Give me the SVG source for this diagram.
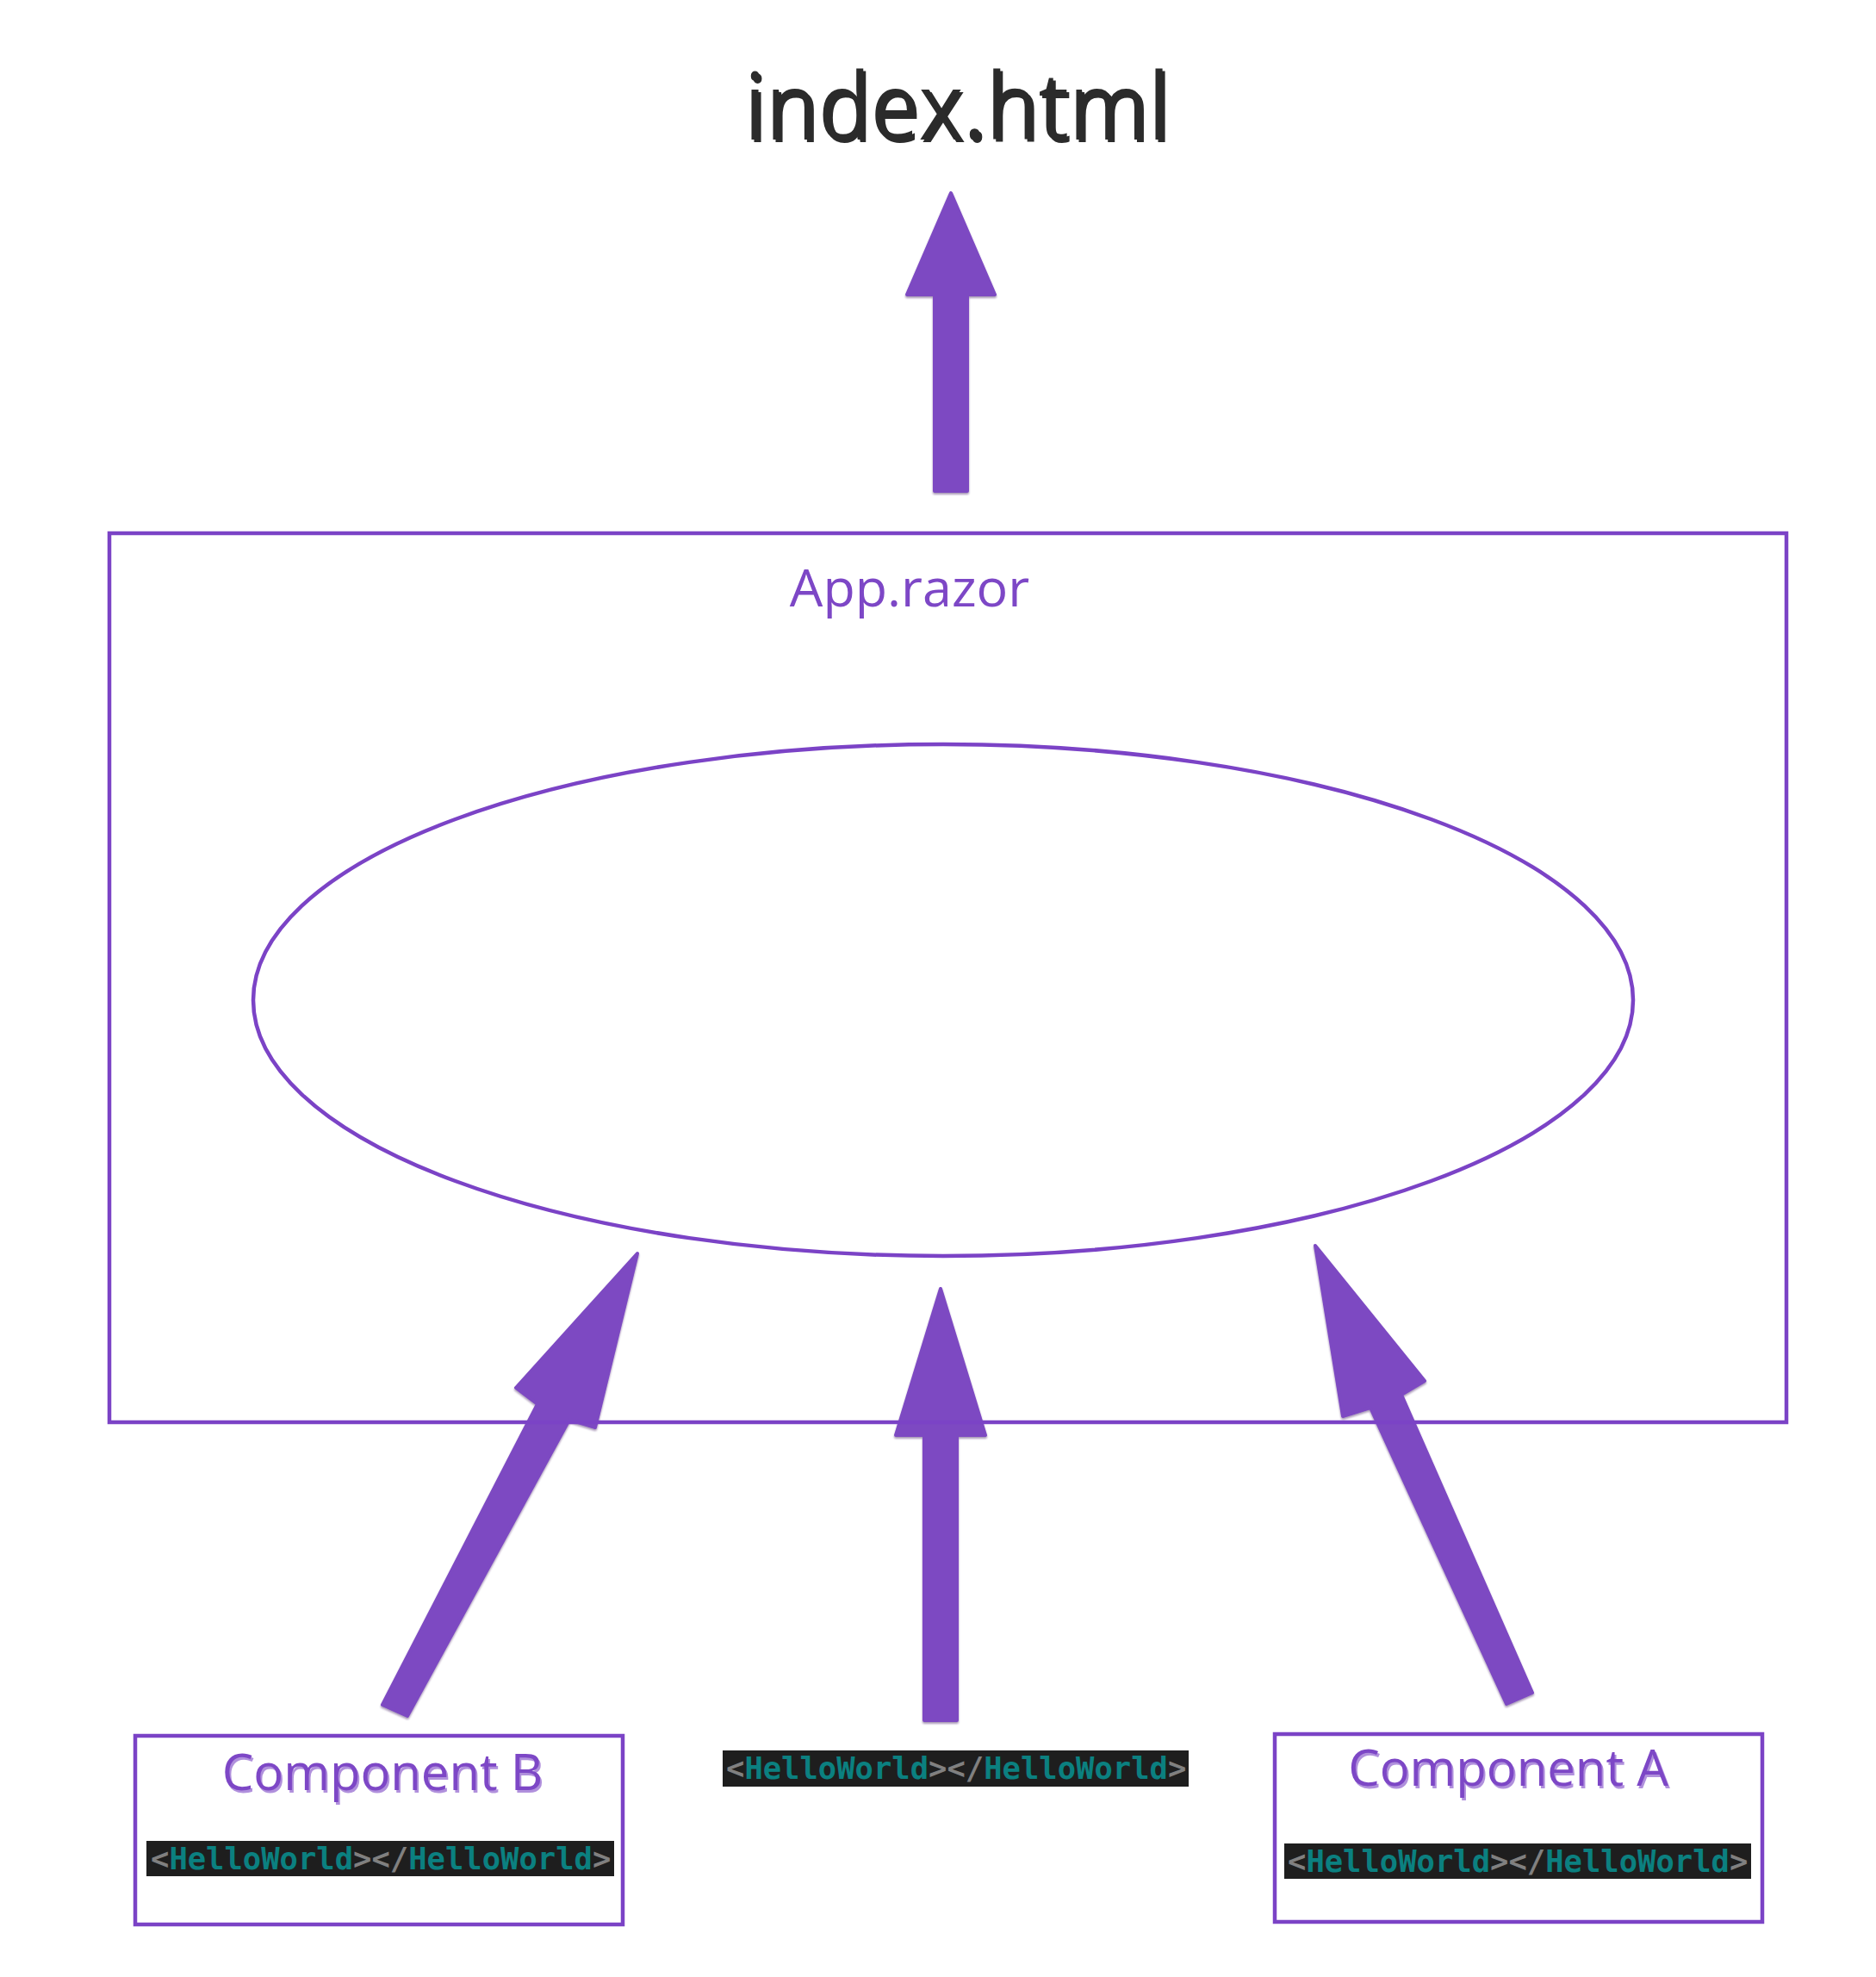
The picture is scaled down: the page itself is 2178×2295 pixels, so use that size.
<svg xmlns="http://www.w3.org/2000/svg" width="2178" height="2295" viewBox="0 0 2178 2295">
<defs>
<style>
.arrow{fill:#7d49c2;stroke:#7d49c2;stroke-width:4;stroke-linejoin:round;filter:url(#sh)}
.frame{fill:none;stroke:#7b43c6;stroke-width:4.5}
.title{font-family:"Open Sans","Noto Sans",sans-serif;fill:#2b2b2b}
.ptext{font-family:"Open Sans","Noto Sans",sans-serif;fill:#7d47c6}
.code{font-family:"DejaVu Sans Mono","Liberation Mono",monospace;font-size:35.5px;font-weight:bold}
.codebg{fill:#1e1e1e}
.punc{fill:#808080}
.tag{fill:#0b8080}
</style>
<filter id="sh" x="-10%" y="-10%" width="120%" height="120%">
<feDropShadow dx="0" dy="2" stdDeviation="1.2" flood-color="#3a1f5c" flood-opacity="0.45"/>
</filter>
</defs>
<rect width="2178" height="2295" fill="#ffffff"/>

<g id="index-html">
<text class="title" x="867" y="165" font-size="108" textLength="494" lengthAdjust="spacingAndGlyphs" fill="#5a5a5a">index.html</text>
<text class="title" x="864" y="162" font-size="108" textLength="494" lengthAdjust="spacingAndGlyphs">index.html</text>
</g>

<g id="connectors">
<polygon class="arrow" points="1104,224 1155,342 1123,342 1123,570 1085,570 1085,342 1053,342"/>
<polygon class="arrow" points="740,1455 691,1657 661,1648 473,1992 444,1979 624,1630 599,1611"/>
<polygon class="arrow" points="1092,1496 1144,1666 1111,1666 1111,1997 1073,1997 1073,1666 1040,1666"/>
<polygon class="arrow" points="1527,1446 1654,1603 1627,1619 1779,1965 1749,1978 1591,1634 1559,1644"/>
</g>

<g id="app-razor">
<rect class="frame" x="127" y="619" width="1947" height="1032"/>
<text class="ptext" x="1056" y="704" font-size="61" text-anchor="middle">App.razor</text>
</g>

<g id="ellipse">
<ellipse cx="1095" cy="1161" rx="801" ry="297" fill="none" stroke="#7b43c6" stroke-width="4.5"/>
</g>

<g id="component-b">
<rect class="frame" x="157" y="2015" width="566" height="219"/>
<text class="ptext" x="446" y="2081" font-size="58" text-anchor="middle" fill="#5b2f99" opacity="0.6">Component B</text>
<text class="ptext" x="444" y="2078" font-size="58" text-anchor="middle">Component B</text>
<rect class="codebg" x="170" y="2137" width="543" height="41"/>
<text class="code" x="175" y="2170"><tspan class="punc">&lt;</tspan><tspan class="tag">HelloWorld</tspan><tspan class="punc">&gt;&lt;/</tspan><tspan class="tag">HelloWorld</tspan><tspan class="punc">&gt;</tspan></text>
</g>

<g id="hello-world">
<rect class="codebg" x="839" y="2032" width="541" height="42"/>
<text class="code" x="843" y="2065"><tspan class="punc">&lt;</tspan><tspan class="tag">HelloWorld</tspan><tspan class="punc">&gt;&lt;/</tspan><tspan class="tag">HelloWorld</tspan><tspan class="punc">&gt;</tspan></text>
</g>

<g id="component-a">
<rect class="frame" x="1480" y="2013" width="566" height="218"/>
<text class="ptext" x="1753" y="2076" font-size="58" text-anchor="middle" fill="#5b2f99" opacity="0.6">Component A</text>
<text class="ptext" x="1751" y="2073" font-size="58" text-anchor="middle">Component A</text>
<rect class="codebg" x="1491" y="2140" width="542" height="41"/>
<text class="code" x="1495" y="2173"><tspan class="punc">&lt;</tspan><tspan class="tag">HelloWorld</tspan><tspan class="punc">&gt;&lt;/</tspan><tspan class="tag">HelloWorld</tspan><tspan class="punc">&gt;</tspan></text>
</g>
</svg>
